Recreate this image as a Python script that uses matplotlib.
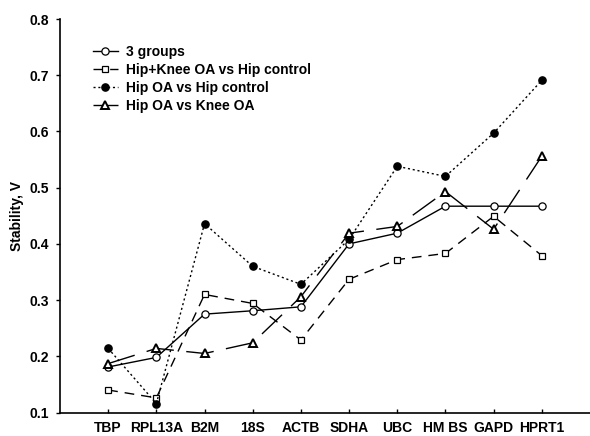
#!/usr/bin/env python3

'''Stability V of candidate reference genes for the four group comparisons.'''

import matplotlib as mpl
import matplotlib.pyplot as plt

genes = ['TBP', 'RPL13A', 'B2M', '18S', 'ACTB', 'SDHA', 'UBC', 'HM BS',
         'GAPD', 'HPRT1']
three_groups = [0.181, 0.198, 0.275, 0.281, 0.288, 0.400, 0.419, 0.467,
                0.467, 0.467]
hip_knee_vs_control = [0.140, 0.126, 0.310, 0.294, 0.229, 0.337, 0.372,
                       0.383, 0.449, 0.379]
hip_oa_vs_control = [0.214, 0.116, 0.436, 0.360, 0.328, 0.408, 0.538, 0.520,
                     0.597, 0.691]
hip_oa_vs_knee = [0.187, 0.214, 0.205, 0.224, 0.306, 0.419, 0.431, 0.493,
                  0.426, 0.556]


def do_plotting(savefig='out.png', dpi=100, l=590, w=436):
    '''Build the line chart.'''

    mpl.rcParams['font.family'] = ['Liberation Sans', 'DejaVu Sans']
    mpl.rcParams['font.weight'] = 'bold'
    mpl.rcParams['xtick.direction'] = 'in'
    mpl.rcParams['ytick.direction'] = 'out'

    fig = plt.figure(figsize=(l / dpi, w / dpi), dpi=dpi)
    ax = fig.add_axes([60 / l, 1 - 412.5 / w, 1 - 60 / l, (412.5 - 19) / w])
    x = range(1, len(genes) + 1)

    ax.plot(x, three_groups, color='black', lw=1, marker='o', ms=5.2,
            mfc='white', mec='black', mew=0.9, label='3 groups')
    ax.plot(x, hip_knee_vs_control, color='black', lw=1, ls=(0, (7, 5)),
            marker='s', ms=5, mfc='white', mec='black', mew=0.9,
            label='Hip+Knee OA vs Hip control')
    ax.plot(x, hip_oa_vs_control, color='black', lw=1, ls=(0, (1.5, 2)),
            marker='o', ms=5.2, mfc='black', mec='black',
            label='Hip OA vs Hip control')
    ax.plot(x, hip_oa_vs_knee, color='black', lw=1, ls=(0, (20, 9)),
            marker='^', ms=5.2, mfc='white', mec='black', mew=1.4,
            label='Hip OA vs Knee OA')

    ax.set_xlim(0, 11)
    ax.set_ylim(0.1, 0.8)
    ax.set_xticks(list(x))
    ax.set_xticklabels(genes, fontsize=10, fontweight='bold')
    ax.set_yticks([0.1, 0.2, 0.3, 0.4, 0.5, 0.6, 0.7, 0.8])
    ax.set_yticklabels(['%.1f' % v for v in ax.get_yticks()], fontsize=10,
                       fontweight='bold')
    ax.tick_params(axis='x', length=3, width=1, pad=6)
    ax.tick_params(axis='y', length=3, width=1, pad=5)
    ax.set_ylabel('Stability, V', fontsize=10, fontweight='bold', labelpad=4)
    ax.spines['top'].set_visible(False)
    ax.spines['right'].set_visible(False)
    ax.spines['left'].set_linewidth(1.2)
    ax.spines['bottom'].set_linewidth(1.2)

    ax.legend(loc='upper left', bbox_to_anchor=(0.062, 0.935), frameon=False,
              handlelength=1.8, handletextpad=0.6, labelspacing=0.3,
              borderaxespad=0, borderpad=0,
              prop={'weight': 'bold', 'size': 10})

    plt.savefig(savefig, dpi=dpi)
    plt.close()


def main():
    do_plotting()


if __name__ == '__main__':
    main()
